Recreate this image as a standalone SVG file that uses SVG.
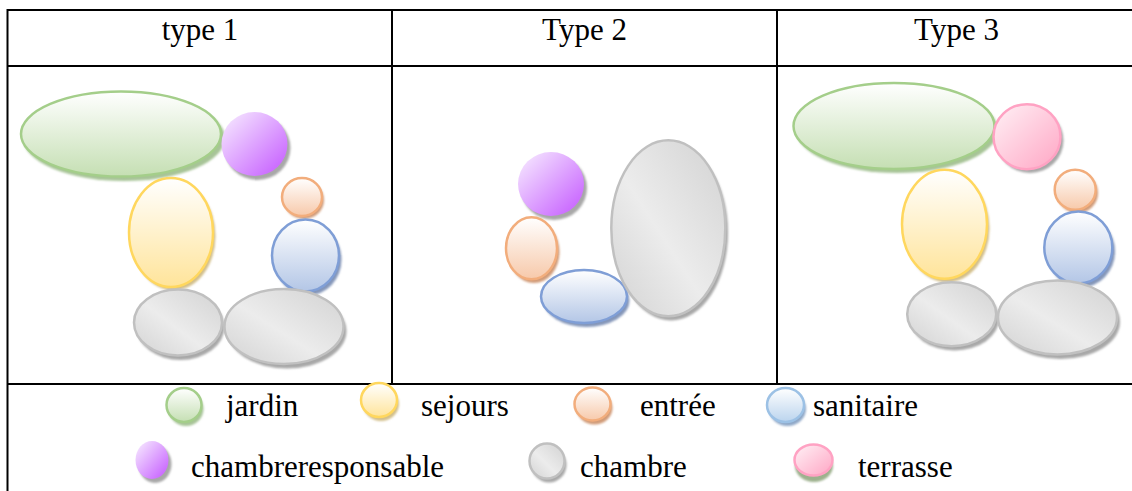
<svg xmlns="http://www.w3.org/2000/svg" width="1132" height="491" viewBox="0 0 1132 491">
<defs>
<linearGradient id="gGreen" x1="0" y1="0" x2="0" y2="1"><stop offset="0" stop-color="#FFFFFF"/><stop offset="1" stop-color="#C5DFB3"/></linearGradient>
<linearGradient id="gYellow" x1="0" y1="0" x2="0" y2="1"><stop offset="0" stop-color="#FFFFFF"/><stop offset="1" stop-color="#FFE49A"/></linearGradient>
<linearGradient id="gOrange" x1="0" y1="0" x2="0" y2="1"><stop offset="0" stop-color="#FFFFFF"/><stop offset="1" stop-color="#F7C9AA"/></linearGradient>
<linearGradient id="gBlue" x1="0" y1="0" x2="0" y2="1"><stop offset="0" stop-color="#FFFFFF"/><stop offset="1" stop-color="#B3C6E6"/></linearGradient>
<linearGradient id="gBlueL" x1="0" y1="0" x2="0" y2="1"><stop offset="0" stop-color="#FFFFFF"/><stop offset="1" stop-color="#BBD4EE"/></linearGradient>
<linearGradient id="gPurple" x1="0.1" y1="0.1" x2="0.9" y2="0.9"><stop offset="0" stop-color="#F3E0FF"/><stop offset="1" stop-color="#C966FF"/></linearGradient>
<linearGradient id="gPink" x1="0.1" y1="0.1" x2="0.9" y2="0.9"><stop offset="0" stop-color="#FFEAF1"/><stop offset="1" stop-color="#FFADC9"/></linearGradient>
<linearGradient id="gGray" x1="0" y1="1" x2="1" y2="0"><stop offset="0" stop-color="#D2D2D2"/><stop offset="0.45" stop-color="#ECECEC"/><stop offset="1" stop-color="#D2D2D2"/></linearGradient>
<filter id="soft" x="-10%" y="-10%" width="120%" height="120%"><feGaussianBlur stdDeviation="0.8"/></filter>
</defs>
<style>
.grid{stroke:#000;stroke-width:2;fill:none}
.t{font-family:"Liberation Serif","Times New Roman",serif;font-size:31px;fill:#000}
.sh{filter:url(#soft)}
.green{fill:url(#gGreen);stroke:#A4CE8A;stroke-width:2.5}
.yellow{fill:url(#gYellow);stroke:#FFD75E;stroke-width:2.5}
.orange{fill:url(#gOrange);stroke:#F2AD7C;stroke-width:2.5}
.blue{fill:url(#gBlue);stroke:#7F9ED6;stroke-width:2.5}
.bluel{fill:url(#gBlueL);stroke:#9CC1E5;stroke-width:2.5}
.purple{fill:url(#gPurple)}
.pink{fill:url(#gPink);stroke:#FFA2C3;stroke-width:2.5}
.gray{fill:url(#gGray);stroke:#C0C0C0;stroke-width:2.5}
.shGreen{fill:#A7C497}
.shYellow{fill:#D3BF8A}
.shOrange{fill:#D19B78}
.shBlue{fill:#8496B9}
.shBlueL{fill:#8FA8C8}
.shGray{fill:#A8A8A8}
.shPinkL{fill:#9DB18D}
</style>

<g id="table">
<line class="grid" x1="7" y1="10" x2="1132" y2="10"/>
<line class="grid" x1="7.5" y1="9" x2="7.5" y2="491"/>
<line class="grid" x1="7" y1="66" x2="1132" y2="66"/>
<line class="grid" x1="392" y1="10" x2="392" y2="384"/>
<line class="grid" x1="777" y1="10" x2="777" y2="384"/>
<line class="grid" x1="7" y1="384" x2="1132" y2="384"/>
</g>

<g id="headers">
<text class="t" x="200" y="40" text-anchor="middle">type 1</text>
<text class="t" x="584.5" y="40" text-anchor="middle">Type 2</text>
<text class="t" x="956.5" y="40" text-anchor="middle">Type 3</text>
</g>

<!-- Type 1 -->
<g id="t1-jardin"><ellipse class="sh shGreen" cx="124" cy="138" rx="101" ry="43"/><ellipse class="green" cx="121" cy="134" rx="100" ry="42.5"/></g>
<g id="t1-chambreresponsable"><ellipse class="sh shGray" cx="257.5" cy="148" rx="33" ry="32"/><ellipse class="purple" cx="254.5" cy="144" rx="33" ry="32"/></g>
<g id="t1-entree"><ellipse class="sh shOrange" cx="304" cy="200" rx="20" ry="19"/><ellipse class="orange" cx="302" cy="197" rx="20" ry="19"/></g>
<g id="t1-sanitaire"><ellipse class="sh shBlue" cx="308" cy="259.5" rx="33.5" ry="36"/><ellipse class="blue" cx="305.5" cy="255.5" rx="33.5" ry="36"/></g>
<g id="t1-sejours"><ellipse class="sh shYellow" cx="173.5" cy="236" rx="42" ry="54.5"/><ellipse class="yellow" cx="171" cy="232.5" rx="42" ry="54.5"/></g>
<g id="t1-chambre1"><ellipse class="sh shGray" cx="180.5" cy="327" rx="44" ry="33"/><ellipse class="gray" cx="178" cy="322.5" rx="44" ry="33"/></g>
<g id="t1-chambre2"><ellipse class="sh shGray" cx="287" cy="331" rx="59.5" ry="37.5"/><ellipse class="gray" cx="284" cy="326.5" rx="59.5" ry="37.5"/></g>

<!-- Type 2 -->
<g id="t2-chambreresponsable"><ellipse class="sh shGray" cx="554" cy="188" rx="33" ry="32"/><ellipse class="purple" cx="551" cy="184" rx="33" ry="32"/></g>
<g id="t2-entree"><ellipse class="sh shOrange" cx="534" cy="252" rx="25.5" ry="31"/><ellipse class="orange" cx="531.5" cy="248.3" rx="25.5" ry="31"/></g>
<g id="t2-sanitaire"><ellipse class="sh shBlue" cx="586.5" cy="300.5" rx="43" ry="26.5"/><ellipse class="blue" cx="584" cy="296.5" rx="43" ry="26.5"/></g>
<g id="t2-chambre"><ellipse class="sh shGray" cx="671" cy="232.5" rx="57" ry="88"/><ellipse class="gray" cx="668.3" cy="228.3" rx="57" ry="88"/></g>

<!-- Type 3 -->
<g id="t3-jardin"><ellipse class="sh shGreen" cx="897" cy="130" rx="101" ry="43"/><ellipse class="green" cx="894" cy="126" rx="100.5" ry="43"/></g>
<g id="t3-terrasse"><ellipse class="sh shGray" cx="1030" cy="140.5" rx="33.5" ry="32.5"/><ellipse class="pink" cx="1027" cy="136.7" rx="33.5" ry="32.5"/></g>
<g id="t3-entree"><ellipse class="sh shOrange" cx="1077.5" cy="193" rx="20.5" ry="20"/><ellipse class="orange" cx="1075.2" cy="189.7" rx="20.5" ry="20"/></g>
<g id="t3-sanitaire"><ellipse class="sh shBlue" cx="1081" cy="251.5" rx="34" ry="36"/><ellipse class="blue" cx="1078.3" cy="247.5" rx="34" ry="36"/></g>
<g id="t3-sejours"><ellipse class="sh shYellow" cx="947" cy="228" rx="42.5" ry="54.5"/><ellipse class="yellow" cx="944.5" cy="224.3" rx="42.5" ry="54.5"/></g>
<g id="t3-chambre1"><ellipse class="sh shGray" cx="954.5" cy="318.5" rx="44.5" ry="32"/><ellipse class="gray" cx="951.7" cy="314.2" rx="44.5" ry="32"/></g>
<g id="t3-chambre2"><ellipse class="sh shGray" cx="1060.5" cy="322" rx="59.5" ry="37"/><ellipse class="gray" cx="1057.5" cy="317.5" rx="59.5" ry="37"/></g>

<!-- Legend -->
<g id="legend-jardin"><ellipse class="sh shGreen" cx="186" cy="409" rx="17.5" ry="17"/><ellipse class="green" cx="184" cy="405" rx="17.5" ry="17"/><text class="t" x="226" y="416">jardin</text></g>
<g id="legend-sejours"><ellipse class="sh shYellow" cx="381" cy="404" rx="18" ry="17"/><ellipse class="yellow" cx="379" cy="400" rx="18" ry="17"/><text class="t" x="421" y="416">sejours</text></g>
<g id="legend-entree"><ellipse class="sh shOrange" cx="594.5" cy="408" rx="18" ry="16.5"/><ellipse class="orange" cx="592.5" cy="404" rx="18" ry="16.5"/><text class="t" x="640" y="416">entrée</text></g>
<g id="legend-sanitaire"><ellipse class="sh shBlueL" cx="787.5" cy="409" rx="18.5" ry="17"/><ellipse class="bluel" cx="785.5" cy="405" rx="18.5" ry="17"/><text class="t" x="813" y="416">sanitaire</text></g>
<g id="legend-chambreresponsable"><ellipse class="sh shGray" cx="155" cy="464" rx="16.5" ry="19"/><ellipse class="purple" cx="152" cy="460" rx="16.5" ry="19"/><text class="t" x="191" y="477">chambreresponsable</text></g>
<g id="legend-chambre"><ellipse class="sh shGray" cx="549" cy="465" rx="17.5" ry="17.5"/><ellipse class="gray" cx="547" cy="461" rx="17.5" ry="17.5"/><text class="t" x="580" y="477">chambre</text></g>
<g id="legend-terrasse"><ellipse class="sh shPinkL" cx="814" cy="466" rx="19" ry="16"/><ellipse class="pink" cx="813.5" cy="460" rx="19" ry="15.5"/><text class="t" x="858" y="477">terrasse</text></g>
</svg>
